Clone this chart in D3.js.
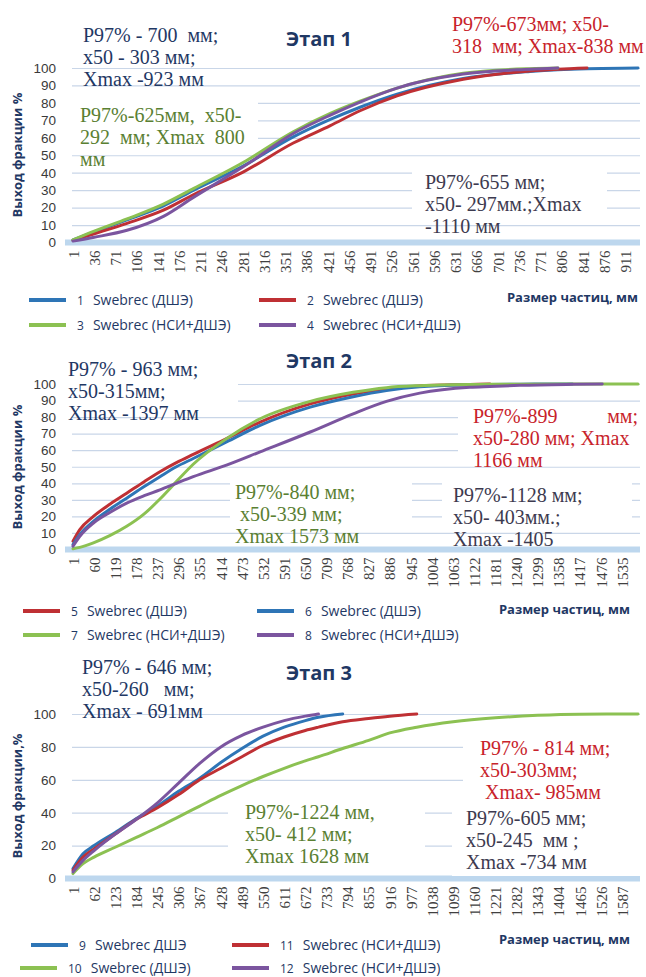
<!DOCTYPE html>
<html>
<head>
<meta charset="utf-8">
<script src="https://cdn.jsdelivr.net/npm/d3@7"></script>
<style>
  body { margin: 0; background: #fff; }
  text { white-space: pre; }
</style>
</head>
<body>
<script>
// ---- data (particle size, mm -> passing, %) ----

// Этап 1
var stage1Sizes  = [1, 36, 90, 150, 200, 282, 364, 425, 474, 535, 644, 754, 800, 848, 932];
var stage1Blue   = [1.5, 6, 13, 21, 30, 44, 60.5, 70.5, 77.5, 85, 94, 98, 99, 99.6, 100];
var stage1Red    = [1.2, 5, 11, 18.5, 27.5, 40.5, 57, 67, 75.5, 84, 93.5, 98.3, 99.3, 100, null];
var stage1Green  = [1.5, 6.5, 13.5, 22, 31, 46, 63.5, 74, 81, 88.5, 97, 99.6, 100, null, null];
var stage1Purple = [0.8, 3, 7, 15, 26, 43.5, 62.5, 73, 80.5, 88.5, 96.5, 99.3, 100, null, null];
var stage1Ticks  = [1, 36, 71, 106, 141, 176, 211, 246, 281, 316, 351, 386, 421, 456, 491, 526,
                    561, 596, 631, 666, 701, 736, 771, 806, 841, 876, 911];

// Этап 2
var stage2Sizes  = [1, 20, 58, 105, 151, 200, 244, 290, 337, 430, 524, 664, 784, 877, 970, 1110,
                    1166, 1250, 1397, 1480, 1580];
var stage2Red    = [5, 12, 20, 27.5, 34, 41, 47, 52.5, 57.5, 67, 77, 88, 94, 97, 98.8, 99.7,
                    100, null, null, null, null];
var stage2Blue   = [3, 9, 17, 24.5, 31, 38, 44, 50, 55, 65, 75, 86, 92.3, 96, 98.3, 99.5,
                    99.7, 99.9, 100, null, null];
var stage2Green  = [0.5, 1.3, 4, 8.5, 14, 21.5, 30.5, 41, 51.5, 67, 79, 89.5, 95, 97.8, 99, 99.7,
                    99.8, 99.9, 100, 100, 100];
var stage2Purple = [2, 8, 16, 22.5, 28, 32.5, 36, 40, 44, 51, 59, 71, 82, 89.5, 94.5, 98,
                    98.5, 99.2, 99.8, 100, null];
var stage2Ticks  = [1, 60, 119, 178, 237, 296, 355, 414, 473, 532, 591, 650, 709, 768, 827, 886,
                    945, 1004, 1063, 1122, 1181, 1240, 1299, 1358, 1417, 1476, 1535];

// Этап 3
var stage3Sizes  = [1, 30, 62, 123, 184, 245, 306, 367, 428, 489, 550, 611, 672, 710, 780, 855, 916, 994,
                    1099, 1221, 1343, 1465, 1633];
var stage3Blue   = [6, 15, 20, 28, 36.5, 44, 53, 61, 70.5, 79, 86.5, 92, 96, 98, 100,
                    null, null, null, null, null, null, null, null];
var stage3Green  = [3, 9, 13, 19, 25, 31, 37.5, 44, 50.5, 56.5, 62, 67, 71.5, 74, 79, 84, 88.5, 92,
                    95.3, 97.7, 99.2, 99.9, 100];
var stage3Red    = [5, 13, 18, 27, 36, 43, 51, 60, 67, 74, 81, 86, 90, 92, 95.3, 97.3, 98.7, 100,
                    null, null, null, null, null];
var stage3Purple = [4, 11, 17, 27, 36, 46, 58, 70, 80, 87, 92, 96, 98.7, 100, null,
                    null, null, null, null, null, null, null, null];
var stage3Ticks  = [1, 62, 123, 184, 245, 306, 367, 428, 489, 550, 611, 672, 733, 794, 855, 916,
                    977, 1038, 1099, 1160, 1221, 1282, 1343, 1404, 1465, 1526, 1587];

var yTicks10 = [0, 10, 20, 30, 40, 50, 60, 70, 80, 90, 100];
var yTicks20 = [0, 20, 40, 60, 80, 100];

var blue = "#2e75b6", red = "#bf3034", green = "#8cc152", purple = "#7b559f";
var navy = "#1f3864", noteRed = "#c8232b", noteGreen = "#5a8032", noteGray = "#3d3a4f";

var sans = "'Open Sans', 'DejaVu Sans', sans-serif";
var serif = "'Liberation Serif', 'DejaVu Serif', serif";

var panels = [
  {
    sizes: stage1Sizes, ticks: stage1Ticks, xMax: 932, yTicks: yTicks10,
    y0: 242.5, y100: 68,
    title: "Этап 1", titleY: 46, yTitle: "Выход фракции %", yTitleY: 155,
    xTitleX: 638, xTitleY: 302,
    series: [
      { num: "1", name: "Swebrec (ДШЭ)", color: blue, values: stage1Blue, lx: 29, ly: 300 },
      { num: "2", name: "Swebrec (ДШЭ)", color: red, values: stage1Red, lx: 259, ly: 300 },
      { num: "3", name: "Swebrec (НСИ+ДШЭ)", color: green, values: stage1Green, lx: 29, ly: 325 },
      { num: "4", name: "Swebrec (НСИ+ДШЭ)", color: purple, values: stage1Purple, lx: 259, ly: 325 }
    ],
    boxes: [[72, 94, 186, 54], [412, 168, 195, 54]],
    notes: [
      { x: 83, y: 42, color: navy, lines: ["P97% - 700  мм;", "x50 - 303 мм;", "Xmax -923 мм"] },
      { x: 80, y: 122, color: noteGreen, lines: ["P97%-625мм,  x50-", "292  мм; Xmax  800", "мм"] },
      { x: 452, y: 31, color: noteRed, lines: ["P97%-673мм; x50-", "318  мм; Xmax-838 мм"] },
      { x: 425, y: 189, color: noteGray, lines: ["P97%-655 мм;", "x50- 297мм.;Xmax", "-1110 мм"] }
    ]
  },
  {
    sizes: stage2Sizes, ticks: stage2Ticks, xMax: 1580, yTicks: yTicks10,
    y0: 549.5, y100: 384,
    title: "Этап 2", titleY: 368, yTitle: "Выход фракции %", yTitleY: 467,
    xTitleX: 630, xTitleY: 614,
    series: [
      { num: "5", name: "Swebrec (ДШЭ)", color: red, values: stage2Red, lx: 23, ly: 611 },
      { num: "6", name: "Swebrec (ДШЭ)", color: blue, values: stage2Blue, lx: 257, ly: 611 },
      { num: "7", name: "Swebrec (НСИ+ДШЭ)", color: green, values: stage2Green, lx: 23, ly: 635 },
      { num: "8", name: "Swebrec (НСИ+ДШЭ)", color: purple, values: stage2Purple, lx: 257, ly: 635 }
    ],
    boxes: [[60, 355, 178, 53], [458, 408, 182, 52], [230, 476, 182, 53], [442, 476, 190, 53]],
    notes: [
      { x: 68, y: 376, color: navy, lines: ["P97% - 963 мм;", "x50-315мм;", "Xmax -1397 мм"] },
      { x: 473, y: 423, color: noteRed, lines: ["P97%-899", "x50-280 мм; Xmax", "1166 мм"] },
      { x: 235, y: 499, color: noteGreen, lines: ["P97%-840 мм;", " x50-339 мм;", "Xmax 1573 мм"] },
      { x: 453, y: 502, color: noteGray, lines: ["P97%-1128 мм;", "x50- 403мм.;", "Xmax -1405"] }
    ]
  },
  {
    sizes: stage3Sizes, ticks: stage3Ticks, xMax: 1633, yTicks: yTicks20,
    y0: 878.5, y100: 714,
    title: "Этап 3", titleY: 680, yTitle: "Выход фракции,%", yTitleY: 796,
    xTitleX: 630, xTitleY: 944,
    series: [
      { num: "9", name: "Swebrec ДШЭ", color: blue, values: stage3Blue, lx: 31, ly: 945 },
      { num: "10", name: "Swebrec (ДШЭ)", color: green, values: stage3Green, lx: 20, ly: 968 },
      { num: "11", name: "Swebrec (НСИ+ДШЭ)", color: red, values: stage3Red, lx: 232, ly: 945 },
      { num: "12", name: "Swebrec (НСИ+ДШЭ)", color: purple, values: stage3Purple, lx: 232, ly: 968 }
    ],
    boxes: [[463, 733, 177, 73], [228, 800, 197, 72], [452, 806, 188, 70]],
    notes: [
      { x: 82, y: 674, color: navy, lines: ["P97% - 646 мм;", "x50-260   мм;", "Xmax - 691мм"] },
      { x: 480, y: 755, color: noteRed, lines: ["P97% - 814 мм;", "x50-303мм;", " Xmax- 985мм"] },
      { x: 245, y: 819, color: noteGreen, lines: ["P97%-1224 мм,", "x50- 412 мм;", "Xmax 1628 мм"] },
      { x: 466, y: 825, color: noteGray, lines: ["P97%-605 мм;", "x50-245  мм ;", "Xmax -734 мм"] }
    ]
  }
];

var svg = d3.select("body").append("svg")
  .attr("width", 646)
  .attr("height", 977);

panels.forEach(function(p) {
  var x = d3.scaleLinear().domain([1, p.xMax]).range([73, 638]);
  var y = d3.scaleLinear().domain([0, 100]).range([p.y0, p.y100]);
  var g = svg.append("g");

  // gridlines + y labels
  var yAxis = g.append("g")
    .attr("transform", "translate(72,0)")
    .call(d3.axisLeft(y).tickValues(p.yTicks).tickSize(-568).tickPadding(16));
  yAxis.select(".domain").remove();
  yAxis.selectAll("line").attr("stroke", "#c9d6e8").attr("stroke-width", 1.2);
  yAxis.selectAll("text")
    .attr("fill", "#3a3a3a")
    .style("font-family", "'Liberation Sans', Arial, sans-serif")
    .style("font-size", "13.5px");

  // thick zero band
  g.append("rect")
    .attr("x", 65).attr("y", p.y0 - 3)
    .attr("width", 575).attr("height", 6)
    .attr("fill", "#bdd7ee");

  // x axis, labels rotated
  var xAxis = g.append("g")
    .attr("transform", "translate(0," + p.y0 + ")")
    .call(d3.axisBottom(x).tickValues(p.ticks).tickSize(0).tickFormat(d3.format("d")));
  xAxis.select(".domain").remove();
  xAxis.selectAll("text")
    .attr("x", -8).attr("y", 0).attr("dy", "0.35em")
    .attr("transform", "rotate(-90)")
    .style("text-anchor", "end")
    .style("font-family", serif)
    .style("font-size", "15px")
    .attr("fill", "#404040");

  // white text boxes that hide gridlines
  p.boxes.forEach(function(b) {
    g.append("rect").attr("x", b[0]).attr("y", b[1])
      .attr("width", b[2]).attr("height", b[3]).attr("fill", "#fff");
  });

  // curves
  var line = d3.line()
    .defined(function(d) { return d[1] != null; })
    .x(function(d) { return x(d[0]); })
    .y(function(d) { return y(d[1]); })
    .curve(d3.curveMonotoneX);

  p.series.forEach(function(s) {
    var pts = p.sizes.map(function(v, i) { return [v, s.values[i]]; });
    g.append("path")
      .attr("d", line(pts))
      .attr("fill", "none")
      .attr("stroke", s.color)
      .attr("stroke-width", 3)
      .attr("stroke-linecap", "round");
  });

  // legend
  p.series.forEach(function(s) {
    g.append("line")
      .attr("x1", s.lx).attr("x2", s.lx + 37)
      .attr("y1", s.ly).attr("y2", s.ly)
      .attr("stroke", s.color).attr("stroke-width", 4);
    var t = g.append("text")
      .attr("x", s.lx + 48).attr("y", s.ly + 5)
      .attr("fill", navy)
      .style("font-family", sans);
    t.append("tspan").style("font-size", "12px").text(s.num);
    t.append("tspan").attr("dx", 9).style("font-size", "14px").text(s.name);
  });

  g.append("text")
    .attr("x", p.xTitleX).attr("y", p.xTitleY)
    .attr("text-anchor", "end")
    .attr("fill", navy)
    .style("font-family", sans).style("font-weight", "bold").style("font-size", "13px")
    .text("Размер частиц, мм");

  g.append("text")
    .attr("transform", "translate(17," + p.yTitleY + ") rotate(-90)")
    .attr("text-anchor", "middle").attr("dy", "0.35em")
    .attr("fill", navy)
    .style("font-family", sans).style("font-weight", "bold").style("font-size", "13px")
    .text(p.yTitle);

  g.append("text")
    .attr("x", 319).attr("y", p.titleY)
    .attr("text-anchor", "middle")
    .attr("fill", navy)
    .style("font-family", sans).style("font-weight", "bold").style("font-size", "20px")
    .text(p.title);

  // annotation blocks
  p.notes.forEach(function(n) {
    n.lines.forEach(function(l, i) {
      g.append("text")
        .attr("x", n.x).attr("y", n.y + i * 22)
        .attr("fill", n.color)
        .style("font-family", serif).style("font-size", "20px")
        .text(l);
    });
  });
});

// the justified "мм;" at the end of the stage 2 red note
svg.append("text")
  .attr("x", 638).attr("y", 423)
  .attr("text-anchor", "end")
  .attr("fill", noteRed)
  .style("font-family", serif).style("font-size", "20px")
  .text("мм;");
</script>
</body>
</html>
